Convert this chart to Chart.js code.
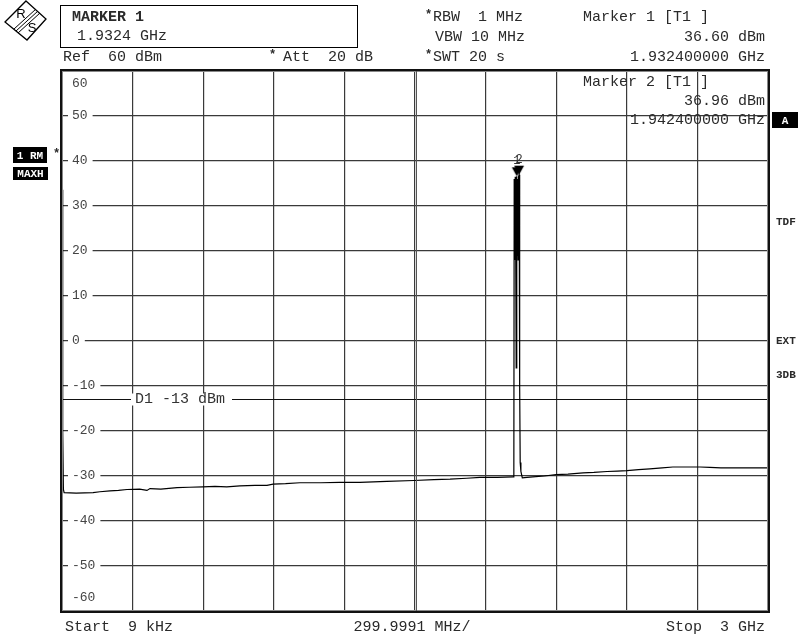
<!DOCTYPE html>
<html>
<head>
<meta charset="utf-8">
<script src="https://cdn.jsdelivr.net/npm/chart.js@4.4.1/dist/chart.umd.min.js"></script>
<style>
  html, body { margin: 0; padding: 0; background: #fff; }
</style>
</head>
<body>
<canvas id="spectrum" width="798" height="635"></canvas>
<script>
// sweep settings (MHz)
const startMHz = 0.009;
const stopMHz = 3000;
const spanPerDiv = 299.9991;

// trace 1 (max hold)
const freqMHz = [0.009, 2, 4, 6, 9, 60, 132, 161, 204, 240, 276, 330, 361, 374, 420, 489, 540, 599, 650, 700,
  756, 820, 871, 897, 950, 1011, 1100, 1180, 1266, 1380, 1496, 1580, 1649, 1720, 1776, 1850, 1916, 1920,
  1921.5, 1924, 1926, 1928, 1930, 1932.4, 1934, 1936, 1938, 1940, 1942.4, 1944, 1945.5, 1947, 1950, 1956,
  1976, 2001, 2050, 2099, 2150, 2214, 2260, 2316, 2360, 2401, 2450, 2498, 2550, 2596, 2650, 2711, 2753,
  2800, 2900, 3000];
const levelDbm = [33.6, 20, -20, -33.0, -33.7, -33.8, -33.7, -33.5, -33.3, -33.2, -33.0, -32.9, -33.2, -32.8,
  -32.9, -32.6, -32.5, -32.4, -32.3, -32.4, -32.2, -32.1, -32.1, -31.8, -31.7, -31.5, -31.5, -31.4, -31.4,
  -31.2, -31.0, -30.8, -30.7, -30.5, -30.3, -30.3, -30.2, -30.2,
  36.0, 18, 36.5, 20, -6, 36.6, 19, 36.0, 18, 36.5, 36.96, 20, -10, -27, -29.0, -30.4,
  -30.3, -30.2, -30.0, -29.7, -29.6, -29.3, -29.2, -29.0, -28.9, -28.8, -28.6, -28.4, -28.2, -28.0, -28.0,
  -28.0, -28.1, -28.2, -28.2, -28.2];

// markers
const markerNames = ['1', '2'];
const markerFreqMHz = [1932.4, 1942.4];
const markerLevelDbm = [36.60, 36.96];

// display line D1
const displayLineDbm = -13;

// y axis labels (dBm)
const yTicks = [60, 50, 40, 30, 20, 10, 0, -10, -20, -30, -40, -50, -60];
const xGrid = [0, 1, 2, 3, 4, 5, 6, 7, 8, 9, 10].map(i => startMHz + i * spanPerDiv);

const mono = '"Liberation Mono", "Courier New", monospace';
const ink = '#2a2a2a';

// marker glyph: filled triangle with its tip at the centre of the image
const markerImg = document.createElement('canvas');
markerImg.width = 12; markerImg.height = 22;
(function() {
  const c = markerImg.getContext('2d');
  c.fillStyle = '#000';
  c.beginPath();
  c.moveTo(1, 2); c.lineTo(11, 2); c.lineTo(6, 11); c.closePath();
  c.fill();
})();

function text(ctx, s, x, y, font, align, color) {
  ctx.font = font;
  ctx.textAlign = align || 'left';
  ctx.textBaseline = 'middle';
  ctx.fillStyle = color || ink;
  ctx.fillText(s, x, y);
}

function tag(ctx, s, x, y, w, h) {
  ctx.fillStyle = '#000';
  ctx.fillRect(x, y, w, h);
  text(ctx, s, x + w / 2, y + h / 2 + 1, 'bold 11px ' + mono, 'center', '#fff');
}

const analyzerScreen = {
  id: 'analyzerScreen',
  beforeDatasetsDraw(chart) {
    const ctx = chart.ctx;
    const a = chart.chartArea;
    const y = chart.scales.y;
    ctx.save();
    ctx.font = '13px ' + mono;
    yTicks.forEach(v => {
      let py = y.getPixelForValue(v);
      py = Math.min(Math.max(py, a.top + 13), a.bottom - 13);
      const s = String(v);
      const w = ctx.measureText(s).width;
      ctx.fillStyle = '#fff';
      ctx.fillRect(a.left + 6, py - 6, w + 9, 12);
      text(ctx, s, a.left + 10, py, '13px ' + mono, 'left', '#444');
    });
    ctx.restore();
  },
  afterDatasetsDraw(chart) {
    const ctx = chart.ctx;
    const a = chart.chartArea;
    const y = chart.scales.y;
    const x = chart.scales.x;
    ctx.save();
    // D1 label sits in a gap of the display line
    const dy = y.getPixelForValue(displayLineDbm);
    ctx.fillStyle = '#fff';
    ctx.fillRect(a.left + 69, dy - 6, 101, 12);
    text(ctx, 'D1 -13 dBm', a.left + 73, dy, '15px ' + mono, 'left', '#333');
    // marker numbers
    markerNames.forEach((n, i) => {
      const px = x.getPixelForValue(markerFreqMHz[i]);
      const py = y.getPixelForValue(markerLevelDbm[i]);
      text(ctx, n, px, py - 15, '12px ' + mono, 'center', '#333');
    });
    ctx.restore();
  },
  afterDraw(chart) {
    const ctx = chart.ctx;
    const a = chart.chartArea;
    ctx.save();
    // double frame
    ctx.strokeStyle = '#111';
    ctx.lineWidth = 2;
    ctx.strokeRect(a.left - 1, a.top - 1, a.right - a.left + 2, a.bottom - a.top + 2);
    ctx.strokeStyle = '#888';
    ctx.lineWidth = 1;
    ctx.strokeRect(a.left + 0.5, a.top + 0.5, a.right - a.left - 1, a.bottom - a.top - 1);
    const cx = chart.scales.x.getPixelForValue(xGrid[5]);
    ctx.strokeStyle = '#555';
    ctx.beginPath(); ctx.moveTo(cx + 1.5, a.top); ctx.lineTo(cx + 1.5, a.bottom); ctx.stroke();

    // R&S logo
    ctx.strokeStyle = '#000';
    ctx.lineWidth = 1.3;
    ctx.beginPath();
    ctx.moveTo(26, 1); ctx.lineTo(46, 19); ctx.lineTo(27, 40); ctx.lineTo(5, 22); ctx.closePath();
    ctx.stroke();
    ctx.lineWidth = 1;
    [-2, 0, 2].forEach(o => {
      ctx.beginPath(); ctx.moveTo(38 + o, 11 + o); ctx.lineTo(16 + o, 31 + o); ctx.stroke();
    });
    text(ctx, 'R', 21, 14, '13px "Liberation Sans", sans-serif', 'center', '#000');
    text(ctx, 'S', 32, 28, '13px "Liberation Sans", sans-serif', 'center', '#000');

    // marker box
    ctx.strokeStyle = '#000';
    ctx.lineWidth = 1;
    ctx.strokeRect(60.5, 5.5, 297, 42);
    text(ctx, 'MARKER 1', 72, 17, 'bold 15px ' + mono);
    text(ctx, '1.9324 GHz', 77, 36, '15px ' + mono);

    // header
    const f = '15px ' + mono;
    const star = 'bold 12px ' + mono;
    text(ctx, 'Ref  60 dBm', 63, 57, f);
    text(ctx, '*', 269, 55, star);
    text(ctx, 'Att  20 dB', 283, 57, f);
    text(ctx, '*', 425, 15, star);
    text(ctx, 'RBW  1 MHz', 433, 17, f);
    text(ctx, 'VBW 10 MHz', 435, 37, f);
    text(ctx, '*', 425, 55, star);
    text(ctx, 'SWT 20 s', 433, 57, f);
    text(ctx, 'Marker 1 [T1 ]', 583, 17, f);
    text(ctx, '36.60 dBm', 765, 37, f, 'right');
    text(ctx, '1.932400000 GHz', 765, 57, f, 'right');

    // marker 2 readout inside the grid
    text(ctx, 'Marker 2 [T1 ]', 583, 82, f);
    text(ctx, '36.96 dBm', 765, 101, f, 'right');
    text(ctx, '1.942400000 GHz', 765, 120, f, 'right');

    // side annotations
    tag(ctx, '1 RM', 13, 147, 34, 16);
    text(ctx, '*', 53, 154, star);
    tag(ctx, 'MAXH', 13, 167, 35, 13);
    tag(ctx, 'A', 772, 112, 26, 16);
    const side = 'bold 11px ' + mono;
    text(ctx, 'TDF', 776, 222, side);
    text(ctx, 'EXT', 776, 341, side);
    text(ctx, '3DB', 776, 375, side);

    // footer
    text(ctx, 'Start  9 kHz', 65, 627, f);
    text(ctx, '299.9991 MHz/', 412, 627, f, 'center');
    text(ctx, 'Stop  3 GHz', 765, 627, f, 'right');
    ctx.restore();
  }
};

const gridStyle = { color: '#3a3a3a', lineWidth: 1.2, drawTicks: false };

new Chart(
  document.getElementById('spectrum'),
  {
    type: 'line',
    data: {
      datasets: [
        {
          label: 'Trace 1',
          data: freqMHz.map((f, i) => ({ x: f, y: levelDbm[i] })),
          borderColor: '#000',
          borderWidth: 1.2,
          pointRadius: 0,
          tension: 0,
        },
        {
          label: 'D1',
          data: [{ x: startMHz, y: displayLineDbm }, { x: stopMHz, y: displayLineDbm }],
          borderColor: '#111',
          borderWidth: 1.2,
          pointRadius: 0,
        },
        {
          label: 'Markers',
          data: markerFreqMHz.map((f, i) => ({ x: f, y: markerLevelDbm[i] })),
          showLine: false,
          pointStyle: markerImg,
          pointRadius: 6,
        }
      ],
    },
    options: {
      responsive: false,
      animation: false,
      devicePixelRatio: 1,
      layout: { padding: { left: 62, top: 71, right: 30, bottom: 24 } },
      scales: {
        x: {
          type: 'linear', min: startMHz, max: stopMHz,
          afterBuildTicks: s => { s.ticks = xGrid.map(v => ({ value: v })); },
          ticks: { display: false },
          grid: gridStyle,
          border: { display: false },
        },
        y: {
          min: -60, max: 60,
          afterBuildTicks: s => { s.ticks = yTicks.map(v => ({ value: v })); },
          ticks: { display: false },
          grid: gridStyle,
          border: { display: false },
        },
      },
      plugins: {
        legend: { display: false },
        tooltip: { enabled: false },
      },
    },
    plugins: [analyzerScreen],
  }
);
</script>
</body>
</html>
